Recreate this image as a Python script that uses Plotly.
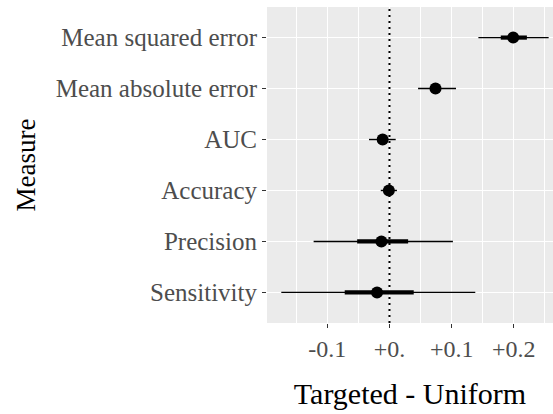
import plotly.graph_objects as go

# Measures, bottom to top
measures = ["Sensitivity", "Precision", "Accuracy", "AUC",
            "Mean absolute error", "Mean squared error"]
# Point estimate (Targeted - Uniform)
estimate = [-0.020, -0.013, -0.001, -0.011, 0.074, 0.199]
# Outer interval (thin line)
outer_lo = [-0.174, -0.122, -0.014, -0.033, 0.046, 0.143]
outer_hi = [0.138, 0.102, 0.012, 0.010, 0.107, 0.256]
# Inner interval (thick line)
inner_lo = [-0.072, -0.052, -0.007, -0.019, 0.066, 0.179]
inner_hi = [0.039, 0.030, 0.005, -0.003, 0.083, 0.221]

tick_vals = [-0.1, 0.0, 0.1, 0.2]
tick_text = ["-0.1", "+0.", "+0.1", "+0.2"]

FONT = "Liberation Serif"


def segments(lo, hi, cats):
    xs, ys = [], []
    for a, b, c in zip(lo, hi, cats):
        xs += [a, b, None]
        ys += [c, c, None]
    return xs, ys


fig = go.Figure()

ox, oy = segments(outer_lo, outer_hi, measures)
fig.add_trace(go.Scatter(x=ox, y=oy, mode="lines",
                         line=dict(color="black", width=1.4),
                         hoverinfo="skip", showlegend=False))
ix, iy = segments(inner_lo, inner_hi, measures)
fig.add_trace(go.Scatter(x=ix, y=iy, mode="lines",
                         line=dict(color="black", width=4.2),
                         hoverinfo="skip", showlegend=False))
fig.add_trace(go.Scatter(x=estimate, y=measures, mode="markers",
                         marker=dict(color="black", size=12),
                         showlegend=False))

fig.add_vline(x=0, line=dict(color="black", width=2, dash="2px,4px"))

fig.update_layout(
    width=553, height=414,
    margin=dict(l=267, r=0, t=7, b=91),
    paper_bgcolor="white",
    plot_bgcolor="#EBEBEB",
    font=dict(family=FONT, color="black"),
    xaxis=dict(
        range=[-0.197, 0.263],
        tickvals=tick_vals, ticktext=tick_text,
        ticks="outside", ticklen=4, tickcolor="#333333", tickwidth=1,
        tickfont=dict(size=24, color="#4D4D4D", family=FONT),
        showgrid=True, gridcolor="white", gridwidth=1.1,
        minor=dict(dtick=0.05, tick0=0, showgrid=True,
                   gridcolor="white", gridwidth=0.5, ticks=""),
        zeroline=False, showline=False,
        title=dict(text="Targeted - Uniform", font=dict(size=30, family=FONT),
                   standoff=22),
    ),
    yaxis=dict(
        type="category", categoryorder="array", categoryarray=measures,
        range=[-0.6, 5.6],
        ticks="outside", ticklen=4, tickcolor="#333333", tickwidth=1,
        tickfont=dict(size=25, color="#4D4D4D", family=FONT),
        showgrid=True, gridcolor="white", gridwidth=1.1,
        zeroline=False, showline=False,
        title=dict(text="Measure", font=dict(size=27, family=FONT),
                   standoff=12),
    ),
)

fig.write_html("out.html")
